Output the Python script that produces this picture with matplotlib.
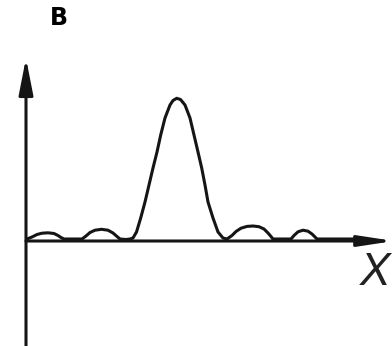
import matplotlib
matplotlib.use("Agg")
import matplotlib.pyplot as plt

# Curve: position along X axis (px from Y axis) and height above X axis (px)
curve_x = [0, 5, 10, 15, 21, 27, 31, 34, 37,
           55, 59, 63, 68, 74.5, 81, 86, 90, 93,
           99, 103, 106, 109.5, 113.7, 118, 122, 126, 130, 133.7, 138, 143, 146, 149.7,
           153.5, 158, 163, 167, 171, 174.7, 178, 181, 186, 191, 196, 200,
           205, 209, 214, 220, 226, 232, 237, 241, 244, 246,
           264, 267, 271, 276, 281, 285, 288, 290, 340]
curve_y = [2, 4, 6.5, 7.8, 8.2, 7.5, 5.5, 3.5, 2,
           2, 5, 8.5, 10.8, 11.7, 10.8, 8, 4.5, 2,
           1.5, 2, 3, 9, 23, 39, 56, 73, 89, 106, 123, 136, 140.5, 142.7,
           141.5, 136, 123, 106, 89, 73, 56, 39, 23, 9, 3, 2,
           5.5, 9.5, 12.8, 14.6, 15, 14.3, 12, 8, 4.5, 2,
           2, 5.5, 9.2, 10.8, 9.8, 7, 4, 2, 2]

fig = plt.figure(figsize=(3.92, 3.46), dpi=100)
ax = fig.add_axes([0, 0, 1, 1])
ax.set_xlim(-27, 365)
ax.set_ylim(-105, 241)
ax.axis("off")

ink = "#151515"
lw = 2.2

# Y axis with arrow
ax.annotate("", xy=(-1, 183), xytext=(-1, -105),
            arrowprops=dict(arrowstyle="-|>,head_length=22,head_width=4.3",
                            mutation_scale=1, color=ink, lw=lw, shrinkA=0, shrinkB=0))
# X axis with arrow
ax.annotate("", xy=(367, 0), xytext=(-1, 0),
            arrowprops=dict(arrowstyle="-|>,head_length=21,head_width=3.2",
                            mutation_scale=1, color=ink, lw=lw, shrinkA=0, shrinkB=0),
            annotation_clip=False)

ax.plot(curve_x, curve_y, color=ink, lw=lw, solid_joinstyle="round", solid_capstyle="round")

ax.text(348, -32, "X", fontsize=33, color="#222222", ha="center", va="center",
        family="Liberation Sans", style="italic")
fig.text(59 / 392, 1 - 18 / 346, "B", fontsize=17, fontweight="bold", ha="center",
         va="center", family="DejaVu Sans")

fig.savefig("out.png", dpi=100)
